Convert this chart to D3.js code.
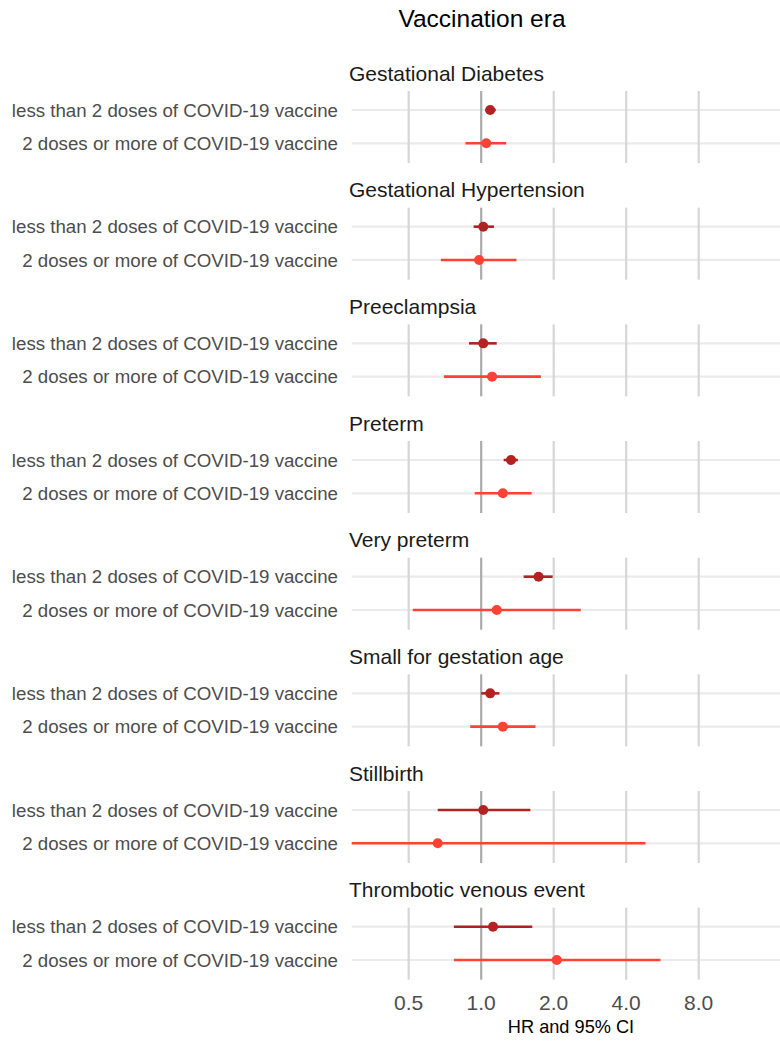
<!DOCTYPE html>
<html>
<head>
<meta charset="utf-8">
<script src="https://cdn.jsdelivr.net/npm/d3@7"></script>
<style>
  html, body { margin: 0; padding: 0; background: #ffffff; }
  svg { display: block; font-family: "Liberation Sans", Arial, sans-serif; }
</style>
</head>
<body>
<svg id="chart" width="780" height="1042"></svg>
<script>
// Outcomes shown as stacked facets
const outcomes = [
  "Gestational Diabetes",
  "Gestational Hypertension",
  "Preeclampsia",
  "Preterm",
  "Very preterm",
  "Small for gestation age",
  "Stillbirth",
  "Thrombotic venous event"
];

// Vaccination groups (rows within each facet)
const groups = [
  "less than 2 doses of COVID-19 vaccine",
  "2 doses or more of COVID-19 vaccine"
];

// Hazard ratios and 95% CI, one entry per outcome
const hrLess   = [1.09, 1.02, 1.02, 1.33, 1.73, 1.09, 1.02, 1.12];
const lowLess  = [1.04, 0.93, 0.89, 1.24, 1.50, 1.00, 0.66, 0.77];
const highLess = [1.15, 1.13, 1.16, 1.42, 1.98, 1.19, 1.60, 1.63];

const hrMore   = [1.05, 0.98, 1.11, 1.23, 1.16, 1.23, 0.66, 2.06];
const lowMore  = [0.86, 0.68, 0.70, 0.94, 0.52, 0.90, 0.29, 0.77];
const highMore = [1.27, 1.40, 1.77, 1.62, 2.59, 1.68, 4.81, 5.55];

const xTicks = [0.5, 1, 2, 4, 8];
const xDomain = [0.29, 17.4];

const groupColors = ["#b22222", "#ff4136"];

const svg = d3.select("#chart");

const panelLeft = 351.7, panelRight = 780;
const firstPanelTop = 91, panelH = 72, panelStep = 116.67;

const x = d3.scaleLog().base(2).domain(xDomain).range([panelLeft, panelRight]);
const yIn = d3.scalePoint().domain(groups).range([19, 52.3]);

// Title
svg.append("text")
  .attr("x", 482).attr("y", 27)
  .attr("text-anchor", "middle")
  .attr("font-size", 24.5)
  .attr("fill", "#000")
  .text("Vaccination era");

const series = [
  { hr: hrLess, lo: lowLess, hi: highLess },
  { hr: hrMore, lo: lowMore, hi: highMore }
];

outcomes.forEach((name, i) => {
  const top = firstPanelTop + i * panelStep;
  const g = svg.append("g").attr("transform", `translate(0,${top})`);

  // Facet strip label
  g.append("text")
    .attr("x", 349).attr("y", -10.5)
    .attr("font-size", 21)
    .attr("fill", "#1a1a1a")
    .text(name);

  // Horizontal gridlines per row
  groups.forEach(gr => {
    g.append("line")
      .attr("x1", panelLeft).attr("x2", panelRight)
      .attr("y1", yIn(gr)).attr("y2", yIn(gr))
      .attr("stroke", "#ebebeb").attr("stroke-width", 2.2);
  });

  // Vertical gridlines at major ticks
  xTicks.forEach(t => {
    g.append("line")
      .attr("x1", x(t)).attr("x2", x(t))
      .attr("y1", 0).attr("y2", panelH)
      .attr("stroke", t === 1 ? "#ababab" : "#d6d6d6")
      .attr("stroke-width", 2.2);
  });

  // Row labels (y axis)
  groups.forEach(gr => {
    g.append("text")
      .attr("x", 338).attr("y", yIn(gr))
      .attr("dy", "0.35em")
      .attr("text-anchor", "end")
      .attr("font-size", 18.7)
      .attr("fill", "#4d4d4d")
      .text(gr);
  });

  // Error bars and point estimates
  series.forEach((s, k) => {
    const yy = yIn(groups[k]);
    g.append("line")
      .attr("x1", x(s.lo[i])).attr("x2", x(s.hi[i]))
      .attr("y1", yy).attr("y2", yy)
      .attr("stroke", groupColors[k]).attr("stroke-width", 2.6);
    g.append("circle")
      .attr("cx", x(s.hr[i])).attr("cy", yy)
      .attr("r", 5)
      .attr("fill", groupColors[k]);
  });
});

// X axis tick labels under the last panel
const lastBottom = firstPanelTop + 7 * panelStep + panelH;
svg.append("g").selectAll("text.tick")
  .data(xTicks)
  .join("text")
  .attr("class", "tick")
  .attr("x", d => x(d))
  .attr("y", lastBottom + 30)
  .attr("text-anchor", "middle")
  .attr("font-size", 21)
  .attr("fill", "#4d4d4d")
  .text(d => d3.format(".1f")(d));

svg.append("text")
  .attr("x", 571)
  .attr("y", lastBottom + 53.5)
  .attr("text-anchor", "middle")
  .attr("font-size", 18.2)
  .attr("fill", "#000")
  .text("HR and 95% CI");
</script>
</body>
</html>
